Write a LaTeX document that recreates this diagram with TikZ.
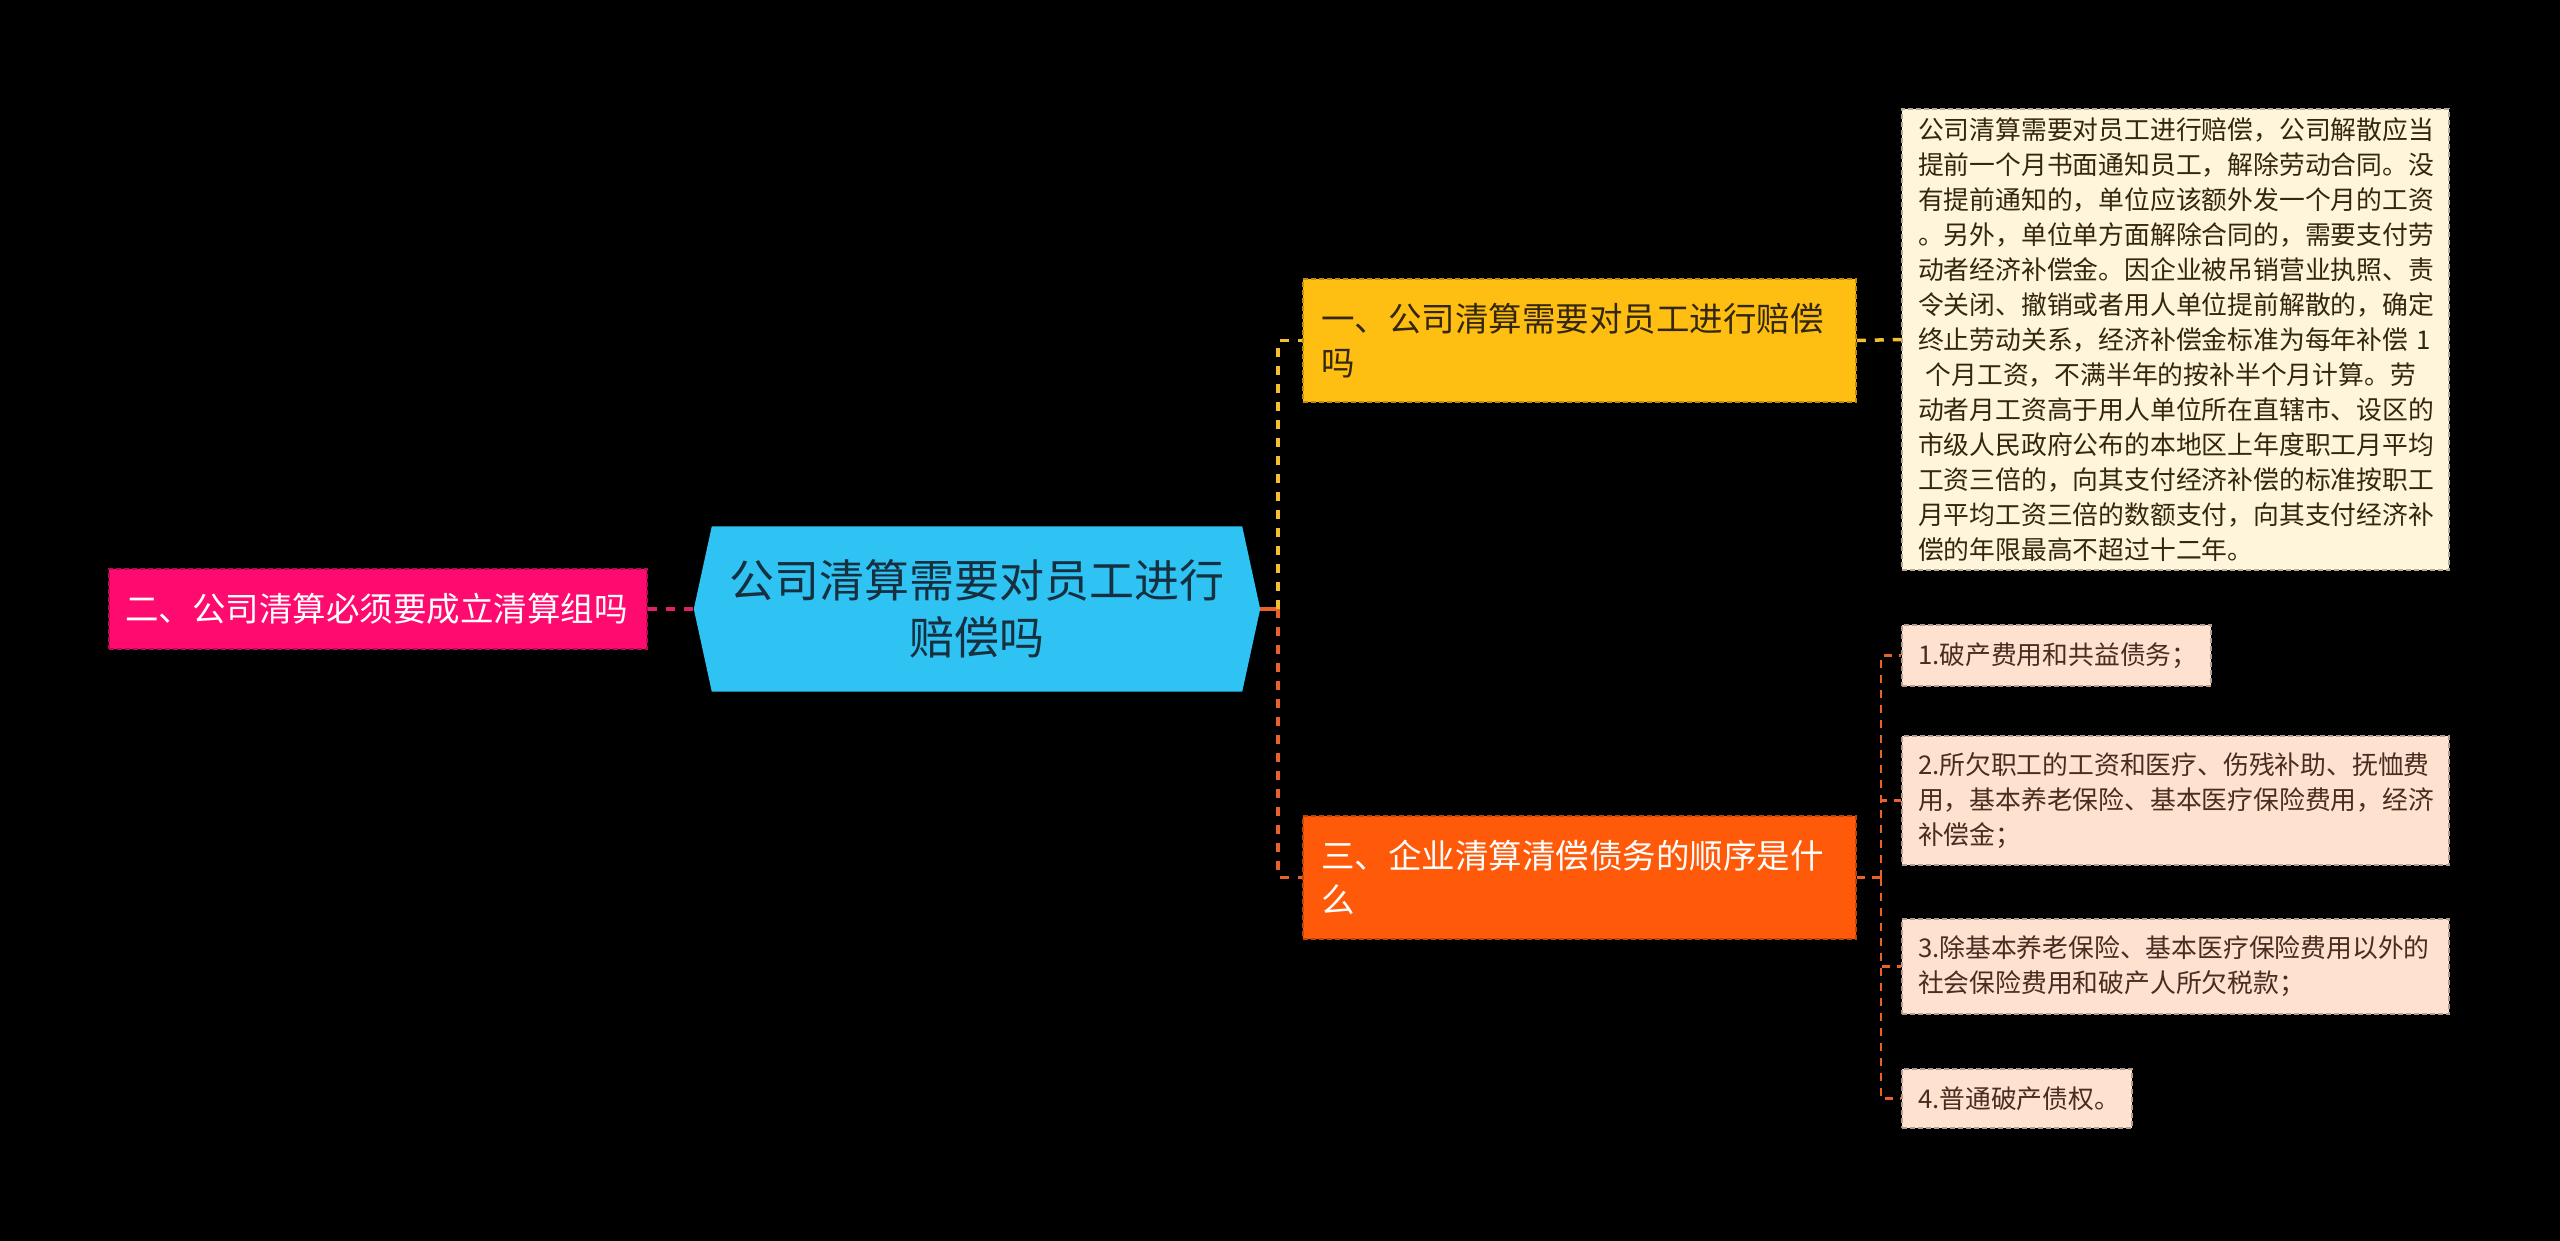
\documentclass[tikz,border=0pt]{standalone}
\usepackage{fontspec}
\setmainfont{Noto Sans CJK SC}
\usetikzlibrary{backgrounds}
\definecolor{hubfill}{HTML}{2FC3F4}
\definecolor{hubtext}{HTML}{16303F}
\definecolor{pinkfill}{HTML}{FF0A6E}
\definecolor{amberfill}{HTML}{FFBE12}
\definecolor{orangefill}{HTML}{FF5A0A}
\definecolor{creamfill}{HTML}{FFF5DA}
\definecolor{peachfill}{HTML}{FFE1D0}
\definecolor{darktext}{HTML}{33280F}
\definecolor{leaftext}{HTML}{4A2C20}
\definecolor{lineyellow}{HTML}{F5C030}
\definecolor{lineorange}{HTML}{E8622A}
\definecolor{linepink}{HTML}{E0206A}

\begin{document}
\begin{tikzpicture}[
  x=1pt, y=-1pt,
  box/.style={inner xsep=16pt, inner ysep=0pt, align=left, line width=1.5pt, dash pattern=on 5pt off 3pt},
  topic/.style={box, inner xsep=18pt, font=\fontsize{33.5}{44}\selectfont, minimum height=123pt, text width=517pt},
  leaf/.style={box, font=\fontsize{25.8}{35}\selectfont},
  creambox/.style={leaf, fill=creamfill, draw=creamfill!70!black, text=darktext},
  peachbox/.style={leaf, fill=peachfill, draw=peachfill!70!black, text=leaftext},
  hubnode/.style={align=center, inner sep=0pt, minimum width=566pt, minimum height=165pt, text=hubtext, font=\fontsize{45}{57}\selectfont},
  ln/.style={line width=3.5pt, dash pattern=on 9pt off 9pt},
  lny/.style={ln, draw=lineyellow},
  lno/.style={ln, draw=lineorange},
  lnp/.style={ln, draw=linepink},
  lnl/.style={line width=2.2pt, dash pattern=on 8pt off 7pt, draw=lineorange}
]
  \useasboundingbox (0,0) rectangle (2560,1241);
  \node[hubnode] (hub) at (977,609) {公司清算需要对员工进行\\赔偿吗};
  \node[box, fill=pinkfill, draw=pinkfill!75!black, text=white, font=\fontsize{33.5}{44}\selectfont,
        minimum height=80pt, text width=506pt] (q2) at (378,609) {二、公司清算必须要成立清算组吗};
  \node[topic, fill=amberfill, draw=amberfill!75!black, text=darktext] (q1) at (1579.5,340.5) {一、公司清算需要对员工进行赔偿\\吗};
  \node[topic, fill=orangefill, draw=orangefill!75!black, text=white] (q3) at (1579.5,877.5) {三、企业清算清偿债务的顺序是什\\么};
  \node[creambox, text width=515pt, minimum height=461pt] (ans) at (2175.5,339.5) {公司清算需要对员工进行赔偿，公司解散应当\\提前一个月书面通知员工，解除劳动合同。没\\有提前通知的，单位应该额外发一个月的工资\\。另外，单位单方面解除合同的，需要支付劳\\动者经济补偿金。因企业被吊销营业执照、责\\令关闭、撤销或者用人单位提前解散的，确定\\终止劳动关系，经济补偿金标准为每年补偿 1\\\hspace{0.3em}个月工资，不满半年的按补半个月计算。劳\\动者月工资高于用人单位所在直辖市、设区的\\市级人民政府公布的本地区上年度职工月平均\\工资三倍的，向其支付经济补偿的标准按职工\\月平均工资三倍的数额支付，向其支付经济补\\偿的年限最高不超过十二年。};
  \node[peachbox, text width=277pt, minimum height=61pt] (l1) at (2056.5,655.5) {1.破产费用和共益债务；};
  \node[peachbox, text width=515pt, minimum height=129pt] (l2) at (2175.5,800.5) {2.所欠职工的工资和医疗、伤残补助、抚恤费\\用，基本养老保险、基本医疗保险费用，经济\\补偿金；};
  \node[peachbox, text width=515pt, minimum height=95pt] (l3) at (2175.5,966.5) {3.除基本养老保险、基本医疗保险费用以外的\\社会保险费用和破产人所欠税款；};
  \node[peachbox, text width=198pt, minimum height=59pt] (l4) at (2017,1098.5) {4.普通破产债权。};
  \coordinate (tr) at (1278,609);
  \coordinate (t3) at (1881,877.5);

  \begin{scope}[on background layer]
    \fill[black] (0,0) rectangle (2560,1241);
    \fill[hubfill] ([xshift=18pt]hub.north west) -- ([xshift=-18pt]hub.north east) -- (hub.east)
      -- ([xshift=-18pt]hub.south east) -- ([xshift=18pt]hub.south west) -- (hub.west) -- cycle;
  \end{scope}

  \draw[line width=3.5pt, draw=lineorange] (hub.east) -- (tr);
  \draw[lny] (tr) |- (q1.west);
  \draw[lno] (tr) |- (q3.west);
  \draw[lnp] (q2.east) -- (hub.west);
  \draw[lny] (q1.east) -- (ans.west);
  \draw[lnl] (q3.east) -- (t3);
  \foreach \leaf in {l1,l2,l3,l4}
    \draw[lnl] (t3) |- (\leaf.west);
\end{tikzpicture}
\end{document}
